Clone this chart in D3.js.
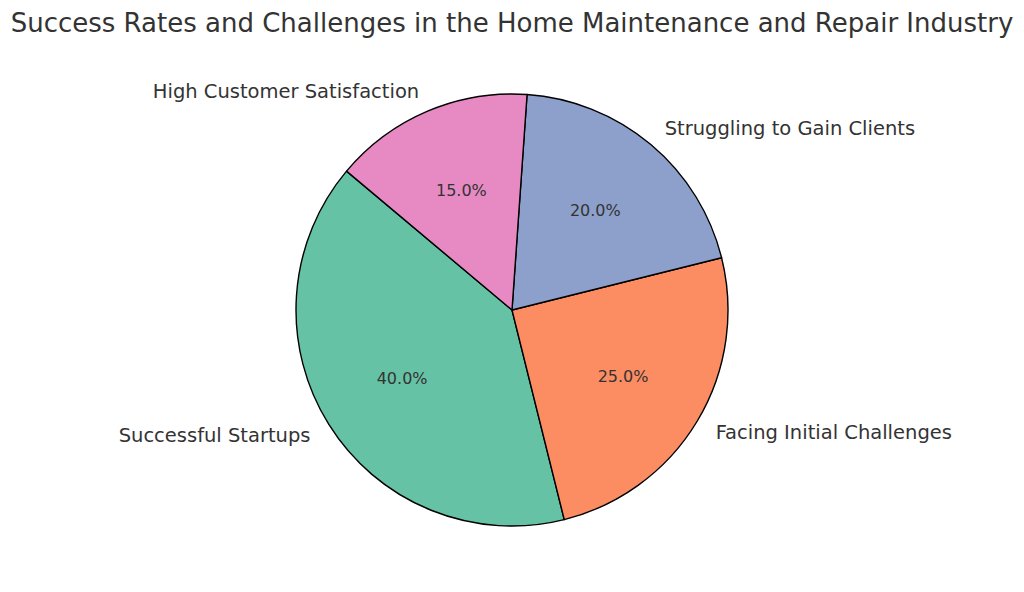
<!DOCTYPE html>
<html>
<head>
<meta charset="utf-8">
<script src="https://cdn.jsdelivr.net/npm/d3@7"></script>
<style>
  body { margin: 0; background: #fff; }
  text { font-family: "DejaVu Sans", sans-serif; fill: #333; }
</style>
</head>
<body>
<svg id="chart" width="1024" height="592"></svg>
<script>
// chart data
var categories = ["Successful Startups", "Facing Initial Challenges", "Struggling to Gain Clients", "High Customer Satisfaction"];
var values = [40, 25, 20, 15];
var colors = ["#66c2a5", "#fc8d62", "#8da0cb", "#e78ac3"];

var svg = d3.select("#chart");
var cx = 512, cy = 310, r = 216;

svg.append("text")
    .attr("x", 512)
    .attr("y", 23)
    .attr("text-anchor", "middle")
    .attr("dominant-baseline", "central")
    .style("font-size", "26px")
    .text("Success Rates and Challenges in the Home Maintenance and Repair Industry");

// matplotlib startangle 140, counter-clockwise -> d3 angles (0 at top, clockwise)
var start = (90 - 140) * Math.PI / 180;
var pie = d3.pie()
    .sort(null)
    .startAngle(start)
    .endAngle(start - 2 * Math.PI);

var arcs = pie(values);
var arc = d3.arc().innerRadius(0).outerRadius(r);

var g = svg.append("g").attr("transform", "translate(" + cx + "," + cy + ")");

g.selectAll("path")
    .data(arcs)
    .enter()
    .append("path")
    .attr("d", arc)
    .attr("fill", (d, i) => colors[i])
    .attr("stroke", "#000")
    .attr("stroke-width", 1.4)
    .attr("stroke-linejoin", "round");

function mid(d) { return (d.startAngle + d.endAngle) / 2; }

// percentages at 0.6 r
g.selectAll("text.pct")
    .data(arcs)
    .enter()
    .append("text")
    .attr("class", "pct")
    .attr("x", d => Math.sin(mid(d)) * r * 0.6)
    .attr("y", d => -Math.cos(mid(d)) * r * 0.6)
    .attr("text-anchor", "middle")
    .attr("dominant-baseline", "central")
    .style("font-size", "16px")
    .text(d => d3.format(".1f")(d.value / d3.sum(values) * 100) + "%");

// category labels at 1.1 r
g.selectAll("text.lbl")
    .data(arcs)
    .enter()
    .append("text")
    .attr("class", "lbl")
    .attr("x", d => Math.sin(mid(d)) * r * 1.1)
    .attr("y", d => -Math.cos(mid(d)) * r * 1.1)
    .attr("text-anchor", d => Math.sin(mid(d)) < 0 ? "end" : "start")
    .attr("dominant-baseline", "central")
    .style("font-size", "19.5px")
    .text((d, i) => categories[i]);
</script>
</body>
</html>
